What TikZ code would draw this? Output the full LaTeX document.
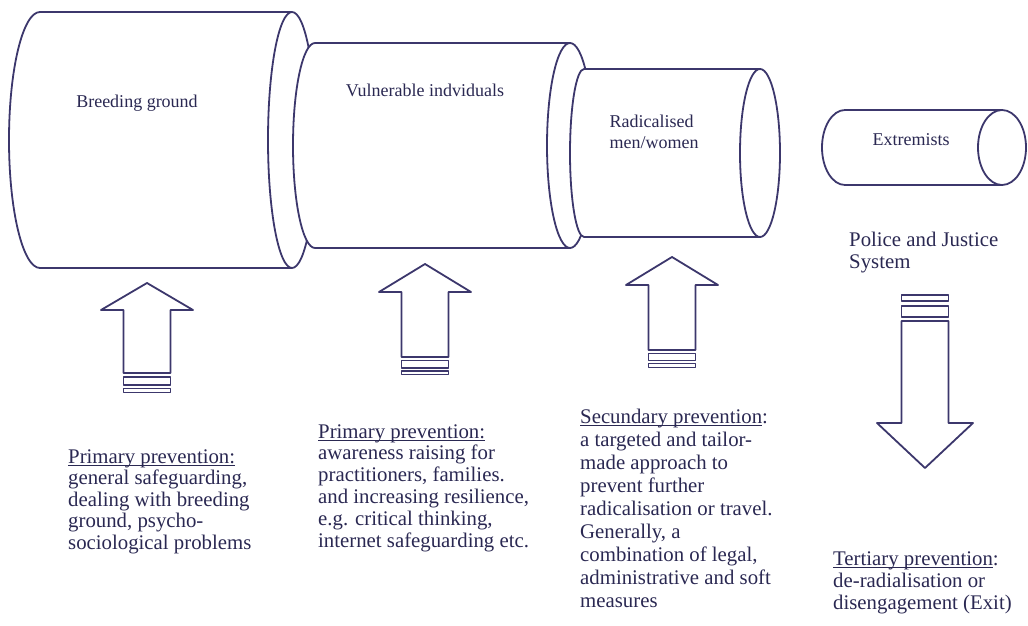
\documentclass[tikz,border=0pt]{standalone}
\usepackage{fontspec}
\setmainfont{Liberation Serif}
\definecolor{linec}{RGB}{60,55,108}
\definecolor{txtc}{RGB}{42,40,82}
\newcommand\myul[1]{\setbox0\hbox{#1}\rlap{\rule[-2.6pt]{\wd0}{1.1pt}}\box0}
\newcommand\cylshape[7]{% xl xr ytop ybot ry rxl rxr
  \path[ln, fill=white] (#1,#3) -- (#2,#3) arc[start angle=90,end angle=-90,x radius=#7,y radius=#5] -- (#1,#4) arc[start angle=270,end angle=90,x radius=#6,y radius=#5] -- cycle;
  \draw[ln] (#2,#3) arc[start angle=90,end angle=270,x radius=#7,y radius=#5];}
\begin{document}
\begin{tikzpicture}[x=1pt,y=1pt,
  ln/.style={draw=linec, line width=1.8pt, line join=round},
  lbl/.style={text=txtc, font=\fontsize{18}{21}\selectfont, inner sep=0pt, align=left},
  blk/.style={text=txtc, inner sep=0pt, align=left, anchor=base west},
]
\useasboundingbox (0,0) rectangle (1028,625);

% cylinders
\cylshape{40}{292}{613}{357}{128}{31}{24}
\cylshape{315}{570}{582}{377}{102.5}{22}{23}
\cylshape{584}{760}{556}{388}{84}{14}{20}
\cylshape{845}{1002}{515}{440}{37.5}{23}{24}

\node[lbl] (breed) at (137,522) {Breeding ground};
\node[lbl] (vuln) at (425,535) {Vulnerable indviduals};
\node[lbl] (rad) at (654,493) {Radicalised\\men/women};
\node[lbl] (extr) at (911,485) {Extremists};

% up arrows
\draw[ln, fill=white] (123.5,252) -- (123.5,315) -- (101,315) -- (147,342) -- (193,315) -- (170.5,315) -- (170.5,252) -- cycle;
\draw[ln] (123.5,248) rectangle (170.5,240);
\draw[ln] (123.5,236.5) rectangle (170.5,232.5);

\draw[ln, fill=white] (401.5,268) -- (401.5,333) -- (379,333) -- (425,361) -- (471,333) -- (448.5,333) -- (448.5,268) -- cycle;
\draw[ln] (401.5,264.5) rectangle (448.5,257);
\draw[ln] (401.5,254) rectangle (448.5,250.5);

\draw[ln, fill=white] (648.5,275) -- (648.5,340) -- (626,340) -- (672,368) -- (718,340) -- (695.5,340) -- (695.5,275) -- cycle;
\draw[ln] (648.5,271.5) rectangle (695.5,264.5);
\draw[ln] (648.5,261.5) rectangle (695.5,257.5);

% down arrow
\draw[ln, fill=white] (901.5,304) -- (901.5,202) -- (877,202) -- (925,157) -- (973,202) -- (948.5,202) -- (948.5,304) -- cycle;
\draw[ln] (901.5,308) rectangle (948.5,319);
\draw[ln] (901.5,324) rectangle (948.5,330);

% text blocks (anchored at the baseline of their last line)
\node[blk, font=\fontsize{20.8}{21.5}\selectfont] (t1) at (68,76)
  {\myul{Primary prevention:}\\general safeguarding,\\dealing with breeding\\ground, psycho-\\sociological problems};
\node[blk, font=\fontsize{20.8}{21.8}\selectfont] (t2) at (318,78)
  {\myul{Primary prevention:}\\awareness raising for\\practitioners, families.\\and increasing resilience,\\e.g. critical thinking,\\internet safeguarding etc.};
\node[blk, font=\fontsize{20.8}{23}\selectfont] (t3) at (580,18)
  {\myul{Secundary prevention}:\\a targeted and tailor-\\made approach to\\prevent further\\radicalisation or travel.\\Generally, a\\combination of legal,\\administrative and soft\\measures};
\node[blk, font=\fontsize{20.8}{22}\selectfont] (t4) at (833,16)
  {\myul{Tertiary prevention}:\\de-radialisation or\\disengagement (Exit)};
\node[blk, font=\fontsize{20.8}{22}\selectfont] (police) at (849,356)
  {Police and Justice\\System};
\end{tikzpicture}
\end{document}
